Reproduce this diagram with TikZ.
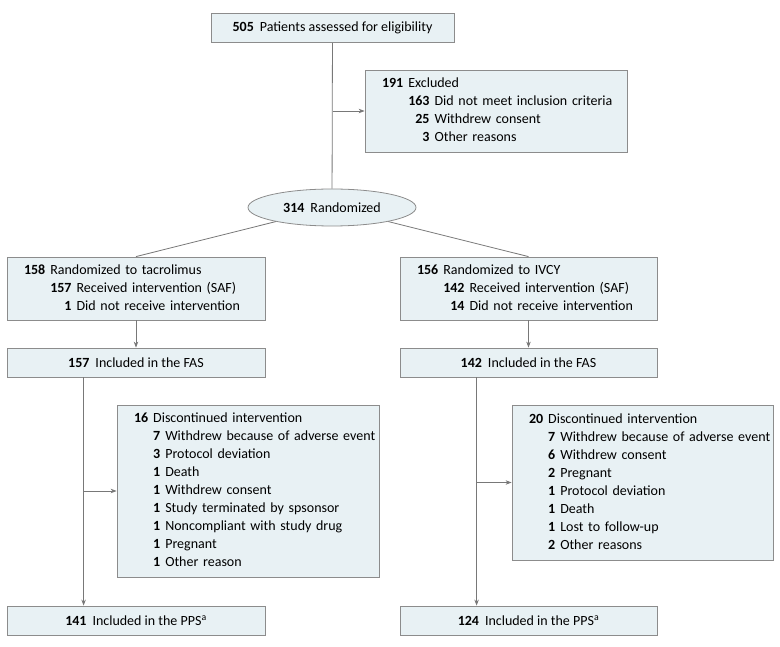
\documentclass[tikz,border=0pt]{standalone}
\usepackage{fontspec}
\setmainfont{Carlito}
\usepackage{xcolor}
\usetikzlibrary{arrows.meta,shapes.geometric}
\definecolor{boxfill}{RGB}{232,241,244}
\definecolor{boxline}{RGB}{140,140,140}
\definecolor{flowline}{RGB}{120,120,120}
\newcommand{\cnt}[1]{\textbf{#1}}
\newcommand{\gap}{\hspace{6pt}}
\newenvironment{sublist}{\begin{tabular}{@{}r@{\hspace{5pt}}r@{\hspace{5pt}}l@{}}}{\end{tabular}}

\begin{document}
\begin{tikzpicture}[x=1pt,y=-1pt]
\tikzstyle{every node}+=[font=\fontsize{14}{18}\selectfont]
\tikzstyle{box}=[draw=boxline, fill=boxfill, line width=0.8pt, inner sep=0pt, minimum height=29pt]
\tikzstyle{listbox}=[box, inner xsep=17pt, align=left]
\tikzstyle{flow}=[draw=flowline, line width=0.8pt]
\tikzstyle{arrow}=[flow, -{Stealth[length=6pt,width=4.5pt]}]
\useasboundingbox (0,0) rectangle (780,647);
\node [box, minimum width=243pt] (n505) at (332.5,28) {\cnt{505}\gap Patients assessed for eligibility};
\node [listbox, text width=228pt, minimum height=82pt] (excl) at (496,111) {\begin{sublist}
\cnt{191} & \multicolumn{2}{@{}l@{}}{Excluded}\\
 & \cnt{163} & Did not meet inclusion criteria\\
 & \cnt{25} & Withdrew consent\\
 & \cnt{3} & Other reasons
\end{sublist}};
\node [ellipse, draw=boxline, fill=boxfill, line width=0.8pt, inner sep=0pt, minimum width=168pt, minimum height=37pt] (rand) at (332,207.5) {\cnt{314}\gap Randomized};
\node [listbox, text width=224pt, minimum height=63pt] (tac) at (136,288.5) {\begin{sublist}
\cnt{158} & \multicolumn{2}{@{}l@{}}{Randomized to tacrolimus}\\
 & \cnt{157} & Received intervention (SAF)\\
 & \cnt{1} & Did not receive intervention
\end{sublist}};
\node [listbox, text width=223pt, minimum height=63pt] (ivcy) at (528.5,288.5) {\begin{sublist}
\cnt{156} & \multicolumn{2}{@{}l@{}}{Randomized to IVCY}\\
 & \cnt{142} & Received intervention (SAF)\\
 & \cnt{14} & Did not receive intervention
\end{sublist}};
\node [box, minimum width=258pt] (fasL) at (136,362.5) {\cnt{157}\gap Included in the FAS};
\node [box, minimum width=257pt] (fasR) at (528.5,362.5) {\cnt{142}\gap Included in the FAS};
\node [listbox, text width=228pt, minimum height=172pt] (discL) at (248,491) {\begin{sublist}
\cnt{16} & \multicolumn{2}{@{}l@{}}{Discontinued intervention}\\
 & \cnt{7} & Withdrew because of adverse event\\
 & \cnt{3} & Protocol deviation\\
 & \cnt{1} & Death\\
 & \cnt{1} & Withdrew consent\\
 & \cnt{1} & Study terminated by spsonsor\\
 & \cnt{1} & Noncompliant with study drug\\
 & \cnt{1} & Pregnant\\
 & \cnt{1} & Other reason
\end{sublist}};
\node [listbox, text width=227pt, minimum height=155pt] (discR) at (642.5,482.5) {\begin{sublist}
\cnt{20} & \multicolumn{2}{@{}l@{}}{Discontinued intervention}\\
 & \cnt{7} & Withdrew because of adverse event\\
 & \cnt{6} & Withdrew consent\\
 & \cnt{2} & Pregnant\\
 & \cnt{1} & Protocol deviation\\
 & \cnt{1} & Death\\
 & \cnt{1} & Lost to follow-up\\
 & \cnt{2} & Other reasons
\end{sublist}};
\node [box, minimum width=258pt] (ppsL) at (136,620.5) {\cnt{141}\gap Included in the PPS\textsuperscript{a}};
\node [box, minimum width=257pt] (ppsR) at (528.5,620.5) {\cnt{124}\gap Included in the PPS\textsuperscript{a}};
\draw [flow] (n505) -- (rand);
\draw [arrow] (n505 |- excl) -- (excl);
\draw [flow] (rand) -- (tac.north);
\draw [flow] (rand) -- (ivcy.north);
\draw [arrow] (tac) -- (fasL);
\draw [arrow] (ivcy) -- (fasR);
\coordinate (dropL) at ([xshift=77pt]fasL.south west);
\coordinate (dropR) at ([xshift=77pt]fasR.south west);
\draw [arrow] (dropL) -- (dropL |- ppsL.north);
\draw [arrow] (dropL |- discL) -- (discL);
\draw [arrow] (dropR) -- (dropR |- ppsR.north);
\draw [arrow] (dropR |- discR) -- (discR);
\end{tikzpicture}
\end{document}
